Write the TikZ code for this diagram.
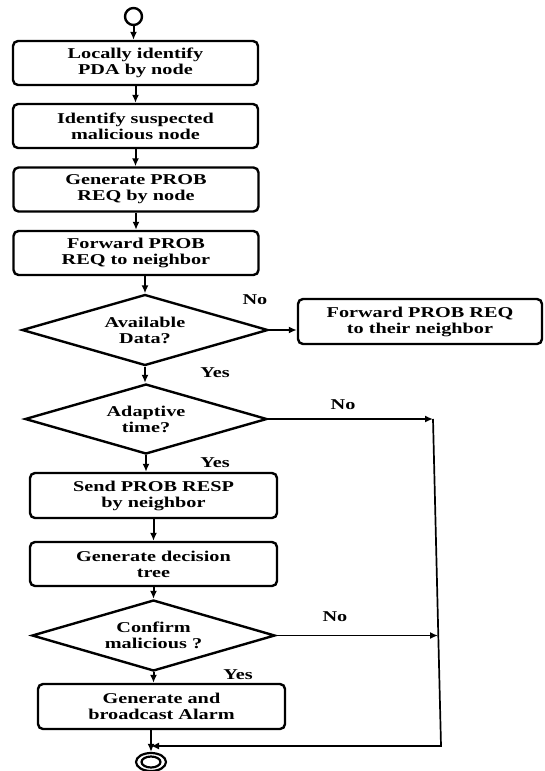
\documentclass[tikz,border=0pt]{standalone}
\usepackage{fontspec}
\setmainfont{Liberation Serif}[FakeStretch=1.35]
\usetikzlibrary{shapes.geometric,arrows.meta,calc}
\begin{document}
\begin{tikzpicture}[x=1pt,y=-1pt,
  every node/.style={font=\fontsize{15}{16}\selectfont\bfseries},
  box/.style={draw, line width=2.4pt, rounded corners=5pt, minimum width=245pt, minimum height=44pt, align=center, inner sep=0pt},
  dec/.style={draw, diamond, line width=2.4pt, aspect=3.4, minimum width=246pt, minimum height=71pt, inner sep=0pt, align=center},
  arr/.style={-{Latex[length=8pt,width=7pt]}, line width=2pt},
  side/.style={line width=1.7pt},
  lab/.style={inner sep=0pt}
]
\useasboundingbox (0,0) rectangle (544,771);
\node[circle, draw, line width=2.4pt, minimum size=17pt, inner sep=0pt] (start) at (133.5,16.5) {};
\node[box] (b1) at (135.5,63) {Locally identify\\PDA by node};
\node[box] (b2) at (135.5,126) {Identify suspected\\malicious node};
\node[box] (b3) at (136,189.5) {Generate PROB\\REQ by node};
\node[box] (b4) at (136,253) {Forward PROB\\REQ to neighbor};
\node[dec] (d1) at (145,330) {Available\\Data?};
\node[box, minimum width=244pt, minimum height=45pt] (r1) at (420,321.5) {Forward PROB REQ\\to their neighbor};
\node[dec, minimum width=242pt, minimum height=70pt] (d2) at (146,419) {Adaptive\\time?};
\node[box, minimum width=247pt, minimum height=45pt] (b5) at (153.5,495.5) {Send PROB RESP\\by neighbor};
\node[box, minimum width=247pt] (b6) at (153.5,564) {Generate decision\\tree};
\node[dec, minimum width=243pt] (d3) at (153.5,635.5) {Confirm\\malicious ?};
\node[box, minimum width=247pt, minimum height=45pt] (b7) at (161.5,706.5) {Generate and\\broadcast Alarm};
\node[ellipse, draw, line width=2.2pt, minimum width=30pt, minimum height=18pt, inner sep=0pt] (end) at (151,762) {};
\node[ellipse, draw, line width=2.2pt, minimum width=19pt, minimum height=11pt, inner sep=0pt] (endin) at (151,762) {};

\coordinate (c1) at (433,419);
\coordinate (c2) at (438,635.5);
\coordinate (c3) at (441,746);

\draw[arr] (start.south) -- (start.south |- b1.north);
\draw[arr] (b1.south) -- (b1.south |- b2.north);
\draw[arr] (b2.south) -- (b2.south |- b3.north);
\draw[arr] (b3.south) -- (b3.south |- b4.north);
\draw[arr] (d1.north |- b4.south) -- (d1.north);
\draw[arr] (d1.east) -- (d1.east -| r1.west);
\draw[arr] (d1.south) -- (d1.south |- d2.north);
\draw[arr] (d2.south) -- (d2.south |- b5.north);
\draw[arr] (b5.south) -- (b5.south |- b6.north);
\draw[arr] (b6.south) -- (b6.south |- d3.north);
\draw[arr] (d3.south) -- (d3.south |- b7.north);
\draw[arr] (end.north |- b7.south) -- (end.north);
\draw[arr, side] (d2.east) -- (c1);
\draw[arr, side] (d3.east) -- (c2);
\draw[arr, side] (c1) -- (c3) -- (end.north |- c3);

\node[lab] (l1) at (255,300) {No};
\node[lab] (l2) at (215,373) {Yes};
\node[lab] (l3) at (343,405) {No};
\node[lab] (l4) at (215,463) {Yes};
\node[lab] (l5) at (335,617) {No};
\node[lab] (l6) at (238,675) {Yes};
\end{tikzpicture}
\end{document}
